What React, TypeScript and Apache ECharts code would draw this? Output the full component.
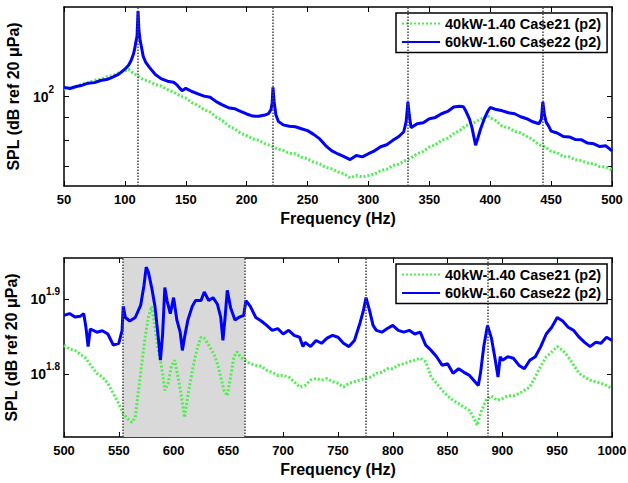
import React, { useEffect, useRef } from "react";
import * as echarts from "echarts";

const NAME_A = "40kW-1.40 Case21 (p2)";
const NAME_B = "60kW-1.60 Case22 (p2)";

// ---- Top panel (50-500 Hz) ----
const topFreqA = [50,55,60,65,70,75,80,85,90,95,100,103,105,110,115,120,125,130,135,140,145,150,155,160,165,170,175,180,185,190,195,200,205,210,215,220,225,230,235,240,245,250,255,260,265,270,275,280,285,290,295,300,305,310,315,320,325,330,335,340,345,350,355,360,365,370,375,380,385,390,395,398,400,405,410,415,420,425,430,435,440,445,450,455,460,465,470,475,480,485,490,495,500];
const topSplA = [103.8,104.6,105.1,106.7,107.3,108.7,109.1,110.7,111.4,113.0,113.9,115.1,113.7,111.4,109.1,108.0,106.3,105.5,103.6,102.3,100.5,99.2,96.9,95.5,93.5,92.3,89.9,88.4,86.0,84.7,82.8,81.8,80.4,79.8,78.4,77.7,76.4,75.8,74.6,74.5,73.2,72.6,71.3,70.7,69.4,68.9,67.8,67.2,65.8,66.6,66.1,66.6,67.1,68.3,68.8,70.1,70.6,71.9,72.9,74.5,75.4,77.1,78.0,79.8,80.7,82.6,83.9,86.1,86.9,88.4,89.7,90.6,89.6,88.2,85.7,85.1,83.6,82.9,81.4,80.1,78.0,77.2,75.4,74.9,73.4,73.3,72.2,71.9,71.0,70.7,69.7,69.6,68.5];

const topFreqB = [50,55,60,65,70,75,80,85,90,95,100,103,105,107,108,109,110,110.8,111.5,112.5,113.5,115,117,120,125,130,135,140,143,145,147,150,155,160,165,170,175,180,185,190,195,200,205,210,215,218,220,221,221.6,222.5,224,226,230,235,240,245,250,255,260,265,270,275,280,285,290,295,300,305,310,315,320,325,329,331,332.4,333.5,335,340,345,350,355,360,365,370,375,378,380,383,385,388,390,392,395,398,400,405,410,415,420,425,430,435,440,442,443.2,444.5,446,448,450,455,460,465,470,475,480,485,490,495,500];
const topSplB = [104.8,104.2,105.3,106.0,107.1,107.4,108.6,109.1,110.5,112.2,115.1,117.5,120.2,124.3,127.6,132.3,136.4,155.2,141.0,133.5,129.5,123.1,119.4,116.3,112.0,109.5,108.2,107.6,106.0,104.4,103.0,104.3,102.6,101.4,100.2,99.6,97.4,95.8,94.4,93.9,92.6,91.4,90.4,90.3,90.9,91.6,93.5,97.0,104.8,97.5,91.0,88.0,86.4,85.8,85.6,84.7,83.9,82.3,80.4,77.6,75.6,74.4,73.4,72.3,73.8,73.3,74.5,75.6,77.2,78.0,79.8,81.4,83.4,88.0,97.3,91.0,85.2,86.9,87.4,89.2,89.8,91.5,92.6,94.7,95.1,94.9,92.8,89.0,85.2,77.8,81.0,84.5,89.0,92.7,94.5,93.5,92.9,92.0,91.5,90.1,89.2,87.8,86.9,89.0,97.3,91.0,87.5,85.9,83.7,82.9,81.4,81.2,80.1,80.0,78.7,78.4,77.3,77.6,75.6];

// ---- Bottom panel (500-1000 Hz) ----
const botFreqA = [500,505,510,515,520,525,530,535,540,545,550,554,558,562,565,568,571,574,577,580,583,586,589,592,595,598,601,604,607,610,613,616,619,622,625,628,631,634,637,640,643,646,649,652,655,658,661,665,670,675,680,685,690,695,700,705,710,715,720,725,730,735,740,745,750,755,760,765,770,775,780,785,790,795,800,805,810,815,820,825,830,835,840,845,850,855,860,865,870,875,877,880,885,890,895,900,905,910,915,920,925,930,935,940,945,950,955,960,965,970,975,980,985,990,995,1000];
const botSplA = [68.9,68.1,67.8,67.0,66.2,64.6,63.2,62.5,61.3,59.4,57.6,55.9,55.0,54.4,55.2,60.0,65.1,70.6,75.1,77.6,72.8,67.8,64.6,60.0,61.3,64.6,65.8,62.5,59.0,55.2,59.0,62.5,65.8,68.6,70.6,70.4,69.3,68.1,67.0,65.1,62.5,60.0,59.0,62.5,66.5,67.5,66.5,65.8,65.1,64.8,64.6,63.8,63.4,62.8,62.8,62.5,61.6,60.6,60.9,61.9,62.2,61.9,62.2,61.6,61.3,60.6,61.3,61.6,61.9,62.2,62.5,63.2,63.4,64.1,64.1,64.8,65.1,65.5,65.8,66.2,65.5,62.5,61.3,60.0,59.0,58.2,57.6,57.0,56.4,54.7,53.9,55.9,58.2,59.0,58.2,58.5,59.0,59.0,59.4,60.0,60.6,62.5,64.6,66.5,67.5,68.6,67.8,66.5,64.8,63.2,62.5,61.9,61.6,61.3,60.9,60.3];

const botFreqB = [500,505,510,515,518,520,522,524,530,535,540,545,550,553,554,556,560,565,570,573,575,577,580,583,586,588,590,592,594,597,600,603,606,608,610,613,617,620,625,628,632,636,640,643,645,647,649,652,656,660,664,666,670,675,680,685,690,695,700,705,710,715,718,720,725,730,735,740,745,750,755,760,765,770,773,775.6,779,782,785,790,795,800,805,810,815,820,825,830,835,840,845,850,855,860,865,870,875,878,880,883,886.4,890,893,896,898,900,905,910,915,920,925,930,935,940,945,950,955,960,965,970,975,980,985,990,995,1000];
const botSplB = [75.5,75.9,75.1,75.3,75.9,72.8,68.6,72.4,71.7,72.0,71.3,68.9,69.3,72.1,77.6,75.0,74.2,75.0,77.9,82.8,87.5,86.2,82.2,77.6,70.6,65.8,71.3,82.2,79.0,75.9,79.7,74.4,71.7,67.8,70.6,74.4,77.6,79.0,79.0,81.1,79.0,79.7,78.1,75.1,69.9,75.1,81.5,77.3,74.4,75.1,75.5,79.0,77.6,75.0,74.2,73.2,72.1,72.5,71.3,72.1,71.0,70.6,68.6,69.5,68.6,69.9,69.3,70.4,71.0,70.6,69.3,68.6,69.9,73.7,76.4,79.7,76.4,73.2,72.1,71.7,72.5,73.2,72.1,71.7,72.1,71.3,71.7,68.9,67.8,66.5,64.8,65.1,63.2,64.1,63.4,62.8,61.6,60.9,63.2,68.6,73.2,70.4,66.5,62.5,66.5,65.8,66.5,66.2,64.8,64.1,65.8,66.5,68.6,71.3,72.8,75.0,74.2,72.8,72.1,70.6,69.5,68.6,69.5,69.3,70.6,69.9];

// harmonic markers and shaded band (Hz)
const topHarmonics = [110.8, 221.6, 332.4, 443.2];
const botHarmonics = [554, 664.8, 775.6, 886.4];
const shadedBand = [554, 664.8];

// axis ranges / ticks
const topXRange = [50, 500];
const botXRange = [500, 1000];
const xTickStep = 50;
const topYRangeExp = [1.8, 2.2];          // 10^1.8 .. 10^2.2
const topYMinorTicks = [70, 80, 90, 100];  // dB
const topYLabelExp = [2];
const botYRange = [52, 90];                // dB
const botYTickExp = [1.8, 1.9];

const FONT = '"Liberation Sans", Arial, Helvetica, sans-serif';
const GREEN = "#4cf04c";
const BLUE = "#0000ff";

const toLog = (f: number[], v: number[]) => f.map((x, i) => [x, Math.log10(v[i])]);

const axisLine = { show: true, onZero: false, lineStyle: { color: "#000", width: 1.5 } };
const tickStyle = { color: "#000", width: 1 };

function xAxesFor(gridIndex: number, range: number[]) {
  return [
    {
      type: "value", gridIndex, min: range[0], max: range[1], interval: xTickStep, position: "bottom",
      axisLine, axisTick: { show: true, inside: true, length: 5, lineStyle: tickStyle },
      axisLabel: {
        show: true, margin: 7, fontSize: 13, fontWeight: "bold", color: "#000", fontFamily: FONT,
        showMinLabel: true, showMaxLabel: true, formatter: (v: number) => String(v),
      },
      splitLine: { show: false },
      name: "Frequency (Hz)", nameLocation: "middle", nameGap: 24,
      nameTextStyle: { fontSize: 16, fontWeight: "bold", color: "#000", fontFamily: FONT },
    },
    {
      type: "value", gridIndex, min: range[0], max: range[1], interval: xTickStep, position: "top",
      axisLine, axisTick: { show: true, inside: true, length: 5, lineStyle: tickStyle },
      axisLabel: { show: false }, splitLine: { show: false },
    },
  ];
}

const rich = {
  b: { fontSize: 14, fontWeight: "bold", color: "#000", fontFamily: FONT },
  s: { fontSize: 10, fontWeight: "bold", color: "#000", fontFamily: FONT, padding: [0, 0, 14, 0] },
};
const expFormatter = (v: number) => `{b|10}{s|${parseFloat(Number(v).toFixed(2))}}`;

function yAxesFor(gridIndex: number, min: number, max: number, ticks: number[], labels: number[], margin: number, nameGap: number) {
  return [
    {
      type: "value", gridIndex, min, max, position: "left",
      axisLine, axisTick: { show: true, inside: true, length: 5, lineStyle: tickStyle, customValues: ticks },
      axisLabel: { show: true, customValues: labels, formatter: expFormatter, margin, rich },
      splitLine: { show: false },
      name: "SPL (dB ref 20 \u03bcPa)", nameLocation: "middle", nameGap,
      nameTextStyle: { fontSize: 16, fontWeight: "bold", color: "#000", fontFamily: FONT },
    },
    {
      type: "value", gridIndex, min, max, position: "right",
      axisLine, axisTick: { show: true, inside: true, length: 5, lineStyle: tickStyle, customValues: ticks },
      axisLabel: { show: false }, splitLine: { show: false },
    },
  ];
}

function legendAt(top: number) {
  return {
    data: [NAME_A, NAME_B], orient: "vertical", left: 396, top,
    padding: [3, 6, 3, 5], itemGap: 3.5, itemWidth: 38, itemHeight: 12,
    backgroundColor: "#fff", borderColor: "#000", borderWidth: 1.5, borderRadius: 0,
    selectedMode: false,
    itemStyle: { opacity: 0 },
    textStyle: { fontSize: 14.5, fontWeight: "bold", color: "#000", fontFamily: FONT },
  };
}

const markLineFor = (freqs: number[]) => ({
  silent: true, symbol: ["none", "none"], label: { show: false },
  lineStyle: { type: "dotted", color: "#444", width: 1.5 },
  data: freqs.map((f) => ({ xAxis: f })),
});

export default function App() {
  const ref = useRef<HTMLDivElement>(null);
  useEffect(() => {
    if (!ref.current) return;
    const chart = echarts.init(ref.current, undefined, { renderer: "svg" });
    const greenLine = { color: GREEN, width: 3, type: [2, 2] as any };
    const blueLine = { color: BLUE, width: 3 };
    chart.setOption({
      animation: false,
      backgroundColor: "#fff",
      grid: [
        { left: 64, top: 7, width: 548, height: 179, outerBoundsMode: "none", containLabel: false },
        { left: 64, top: 258, width: 548, height: 179, outerBoundsMode: "none", containLabel: false },
      ],
      xAxis: [...xAxesFor(0, topXRange), ...xAxesFor(1, botXRange)],
      yAxis: [
        ...yAxesFor(0, topYRangeExp[0], topYRangeExp[1], topYMinorTicks.map((v) => Math.log10(v)), topYLabelExp, 10, 30),
        ...yAxesFor(1, Math.log10(botYRange[0]), Math.log10(botYRange[1]), botYTickExp, botYTickExp, 4, 40),
      ],
      legend: [legendAt(13), legendAt(264)],
      series: [
        {
          name: "band", type: "line", xAxisIndex: 2, yAxisIndex: 2, data: [], z: 1, silent: true,
          markArea: { silent: true, itemStyle: { color: "#d9d9d9", opacity: 1 }, data: [[{ xAxis: shadedBand[0] }, { xAxis: shadedBand[1] }]] },
        },
        {
          name: NAME_A, type: "line", xAxisIndex: 0, yAxisIndex: 0, showSymbol: false, symbol: "none", z: 2,
          lineStyle: greenLine, itemStyle: { color: GREEN }, data: toLog(topFreqA, topSplA),
          markLine: markLineFor(topHarmonics),
        },
        {
          name: NAME_B, type: "line", xAxisIndex: 0, yAxisIndex: 0, showSymbol: false, symbol: "none", z: 3,
          lineStyle: blueLine, itemStyle: { color: BLUE }, data: toLog(topFreqB, topSplB),
        },
        {
          name: NAME_A, type: "line", xAxisIndex: 2, yAxisIndex: 2, showSymbol: false, symbol: "none", z: 2,
          lineStyle: greenLine, itemStyle: { color: GREEN }, data: toLog(botFreqA, botSplA),
          markLine: markLineFor(botHarmonics),
        },
        {
          name: NAME_B, type: "line", xAxisIndex: 2, yAxisIndex: 2, showSymbol: false, symbol: "none", z: 3,
          lineStyle: blueLine, itemStyle: { color: BLUE }, data: toLog(botFreqB, botSplB),
        },
      ],
    });
    return () => chart.dispose();
  }, []);
  return <div ref={ref} style={{ position: "fixed", left: 0, top: 0, width: 628, height: 483 }} />;
}
